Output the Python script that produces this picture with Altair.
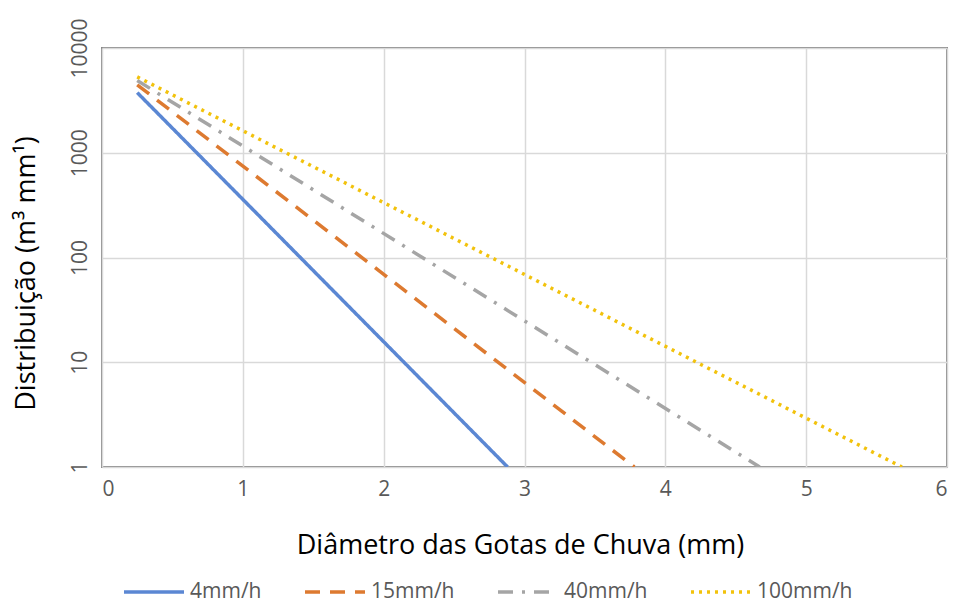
import altair as alt
import pandas as pd

# Values (straight lines on log scale: start and end points)
series = ["4mm/h", "15mm/h", "40mm/h", "100mm/h"]
diam_start = [0.25, 0.25, 0.25, 0.25]
dist_start = [3750, 4450, 4900, 5300]
diam_end = [2.88, 3.78, 4.67, 5.68]
dist_end = [1, 1, 1, 1]

x_ticks = [0, 1, 2, 3, 4, 5, 6]
y_ticks = [1, 10, 100, 1000, 10000]

colors = ["#5B87D3", "#DD7A30", "#A5A5A5", "#F2C20C"]
dashes = [[1, 0], [15, 10], [15, 9, 3, 9], [3, 5]]

rows = []
for s, x0, y0, x1, y1 in zip(series, diam_start, dist_start, diam_end, dist_end):
    rows.append({"serie": s, "d": x0, "n": y0, "o": 0})
    rows.append({"serie": s, "d": x1, "n": y1, "o": 1})
df = pd.DataFrame(rows)

FONT = "Open Sans"

chart = alt.Chart(df).mark_line(strokeWidth=3.5, clip=True).encode(
    x=alt.X("d:Q", scale=alt.Scale(domain=[0, 6], nice=False),
            axis=alt.Axis(values=x_ticks, format="d", title="Diâmetro das Gotas de Chuva (mm)",
                          titleX=418, titleY=78, titleBaseline="middle", titleAlign="center")),
    y=alt.Y("n:Q", scale=alt.Scale(type="log", domain=[1, 10000], nice=False),
            axis=alt.Axis(values=y_ticks, format="d", title="Distribuição (m³ mm¹)",
                          labelAngle=-90, labelAlign="center", labelBaseline="bottom",
                          labelPadding=12,
                          titleX=-76, titleY=225, titleBaseline="middle", titleAlign="center",
                          titleAngle=-90)),
    color=alt.Color("serie:N", sort=series, scale=alt.Scale(domain=series, range=colors),
                    legend=alt.Legend(title=None, orient="none", direction="horizontal",
                                      legendX=20, legendY=512, symbolType="stroke",
                                      symbolSize=3600, symbolStrokeWidth=3.5,
                                      labelFontSize=21, labelFont=FONT, labelColor="#595959",
                                      labelOffset=4, columnPadding=36)),
    strokeDash=alt.StrokeDash("serie:N", sort=series,
                              scale=alt.Scale(domain=series, range=dashes), legend=None),
    order="o:Q",
).properties(
    width=845, height=419,
    autosize=alt.AutoSizeParams(type="none"),
    padding={"left": 102, "top": 48, "right": 8, "bottom": 141},
).configure_view(
    stroke="#878787", strokeWidth=2
).configure_axis(
    domain=False, ticks=False,
    grid=True, gridColor="#D9D9D9", gridWidth=1.5,
    labelFont=FONT, labelFontSize=21, labelColor="#595959",
    titleFont=FONT, titleFontSize=27, titleColor="#000000", titleFontWeight="normal",
).configure_axisX(labelPadding=11)

chart.save("out.html", embed_options={"renderer": "svg", "actions": False})
